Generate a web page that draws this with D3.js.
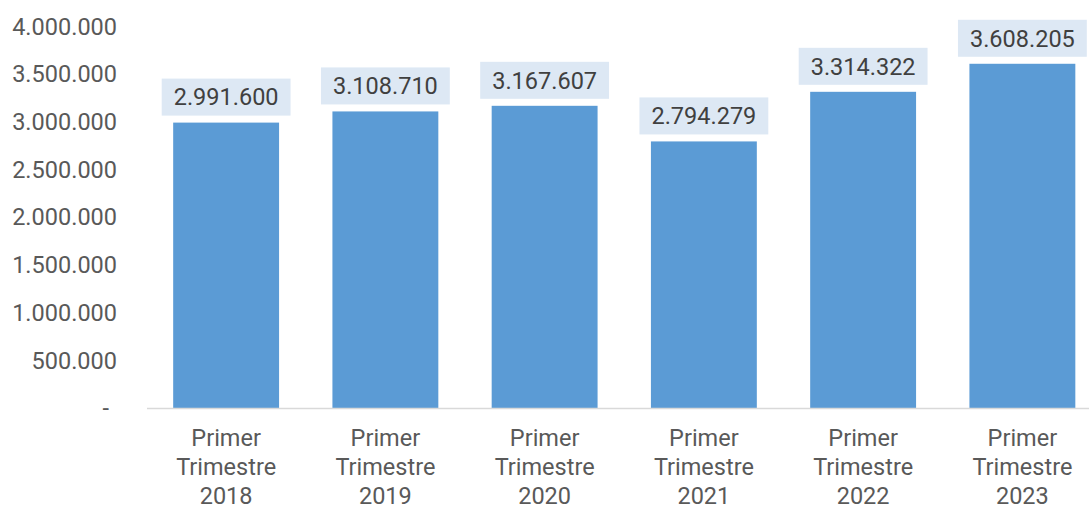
<!DOCTYPE html>
<html><head><meta charset="utf-8">
<script src="https://cdn.jsdelivr.net/npm/d3@7"></script>
<style>body{margin:0;background:#fff}svg{display:block}</style>
</head><body>
<svg id="c" width="1089" height="505"></svg>
<script>
const categories = ["Primer Trimestre 2018","Primer Trimestre 2019","Primer Trimestre 2020","Primer Trimestre 2021","Primer Trimestre 2022","Primer Trimestre 2023"];
const values = [2991600, 3108710, 3167607, 2794279, 3314322, 3608205];
const yTicks = [0, 500000, 1000000, 1500000, 2000000, 2500000, 3000000, 3500000, 4000000];

const svg = d3.select("#c");
const font = "Roboto, 'Noto Sans', sans-serif";
const fmt = v => v === 0 ? "-" : d3.format(",")(v).replace(/,/g, ".");

const x = d3.scaleBand().domain(categories).range([146.5, 1102]).paddingInner(0.335).paddingOuter(0.1675);
const y = d3.scaleLinear().domain([0, 4000000]).range([408, 26.4]);

// y axis labels
svg.append("g").selectAll("text").data(yTicks).join("text")
  .attr("x", d => d === 0 ? 109 : 117)
  .attr("y", d => y(d))
  .attr("dy", "0.35em")
  .attr("text-anchor", "end")
  .attr("font-family", font).attr("font-size", 23.5)
  .attr("fill", "#595959")
  .text(fmt);

// bars
svg.append("g").selectAll("rect").data(values).join("rect")
  .attr("x", (d, i) => x(categories[i]))
  .attr("y", d => y(d))
  .attr("width", x.bandwidth())
  .attr("height", d => y(0) - y(d))
  .attr("fill", "#5b9bd5");

// axis line
svg.append("line").attr("x1", 147).attr("x2", 1089).attr("y1", 408.5).attr("y2", 408.5)
  .attr("stroke", "#d9d9d9").attr("stroke-width", 1.5);

// x labels
const xl = svg.append("g").selectAll("text").data(categories).join("text")
  .attr("text-anchor", "middle")
  .attr("font-family", font).attr("font-size", 23.5)
  .attr("fill", "#595959");
xl.each(function(d) {
  const parts = ["Primer", "Trimestre", d.split(" ").pop()];
  const cx = x(d) + x.bandwidth() / 2;
  d3.select(this).selectAll("tspan").data(parts).join("tspan")
    .attr("x", cx).attr("y", (p, j) => 438 + j * 29).attr("dy", "0.35em").text(p => p);
});

// data labels with boxes
const lg = svg.append("g").selectAll("g").data(values).join("g");
lg.each(function(d, i) {
  const g = d3.select(this);
  const cx = x(categories[i]) + x.bandwidth() / 2;
  const boxBottom = y(d) - 7;
  const h = 37;
  const rect = g.append("rect").attr("fill", "#dde8f4");
  const t = g.append("text").attr("x", cx).attr("y", boxBottom - h / 2).attr("dy", "0.35em")
    .attr("text-anchor", "middle").attr("font-family", font).attr("font-size", 23.5)
    .attr("fill", "#404040").text(fmt(d));
  const w = t.node().getComputedTextLength() + 24;
  rect.attr("x", cx - w / 2).attr("y", boxBottom - h).attr("width", w).attr("height", h);
});
</script>
</body></html>
